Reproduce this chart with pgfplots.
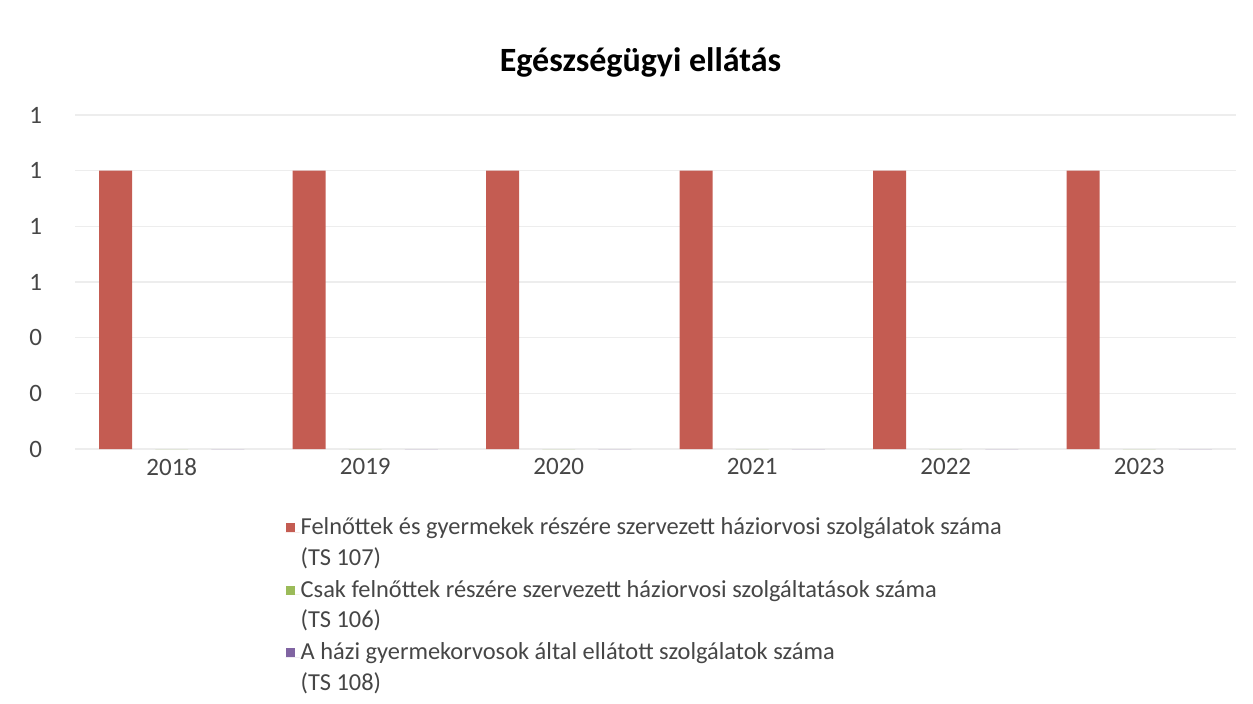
\documentclass[border=0pt]{standalone}
\usepackage{fontspec}
\setmainfont{Carlito}
\usepackage{pgfplots}
\pgfplotsset{compat=1.18}

\definecolor{barred}{RGB}{196,92,82}
\definecolor{bargreen}{RGB}{155,187,89}
\definecolor{barpurple}{RGB}{128,100,162}
\definecolor{ticktext}{RGB}{70,70,70}

\begin{document}
\begin{tikzpicture}
\useasboundingbox (0pt,0pt) rectangle (626.5pt,351.5pt);
\begin{axis}[
    at={(37.5pt,127pt)}, anchor=south west,
    scale only axis,
    width=580.5pt, height=167pt,
    ybar,
    bar width=0.17,
    xmin=-0.5, xmax=5.5,
    ymin=0, ymax=1.2,
    xtick={0,1,2,3,4,5},
    xticklabels={2018,2019,2020,2021,2022,2023},
    ytick={0,0.2,0.4,0.6,0.8,1,1.2},
    /pgf/number format/assume math mode=true,
    yticklabel style={/pgf/number format/fixed,/pgf/number format/precision=0,xshift=-13pt},
    xticklabel style={yshift=-1pt},
    tick label style={font=\fontsize{12.5}{14}\selectfont, text=ticktext},
    major tick length=0pt,
    axis line style={draw=none},
    ymajorgrids,
    grid style={gray!14, line width=0.6pt},
    title={\textbf{Egészségügyi ellátás}},
    title style={font=\fontsize{17}{20}\selectfont, at={(0.5,1)}, anchor=center, yshift=20.5pt, xshift=-7.5pt},
    legend style={at={(0.176,-0.19)}, anchor=north west, draw=none,
        font=\fontsize{12.2}{15.3}\selectfont, text=ticktext,
        cells={align=left}, row sep=5pt,
        nodes={inner sep=0.5pt}},
    legend cell align=left,
    legend image code/.code={\fill[#1] (0pt,5.4pt) rectangle (4.5pt,9.9pt);
        \path (0pt,5.4pt) -- (7pt,5.4pt);},
]
\addplot[fill=barred, draw=none, bar shift=-0.29]
    coordinates {(0,1) (1,1) (2,1) (3,1) (4,1) (5,1)};
\addplot[fill=bargreen, draw=none, bar shift=0]
    coordinates {(0,0) (1,0) (2,0) (3,0) (4,0) (5,0)};
\addplot[fill=barpurple, draw=none, bar shift=0.29]
    coordinates {(0,0) (1,0) (2,0) (3,0) (4,0) (5,0)};
\legend{{Felnőttek és gyermekek részére szervezett háziorvosi szolgálatok száma\\(TS 107)},
        {Csak felnőttek részére szervezett háziorvosi szolgáltatások száma\\(TS 106)},
        {A házi gyermekorvosok által ellátott szolgálatok száma\\(TS 108)}}
\end{axis}
\end{tikzpicture}
\end{document}
